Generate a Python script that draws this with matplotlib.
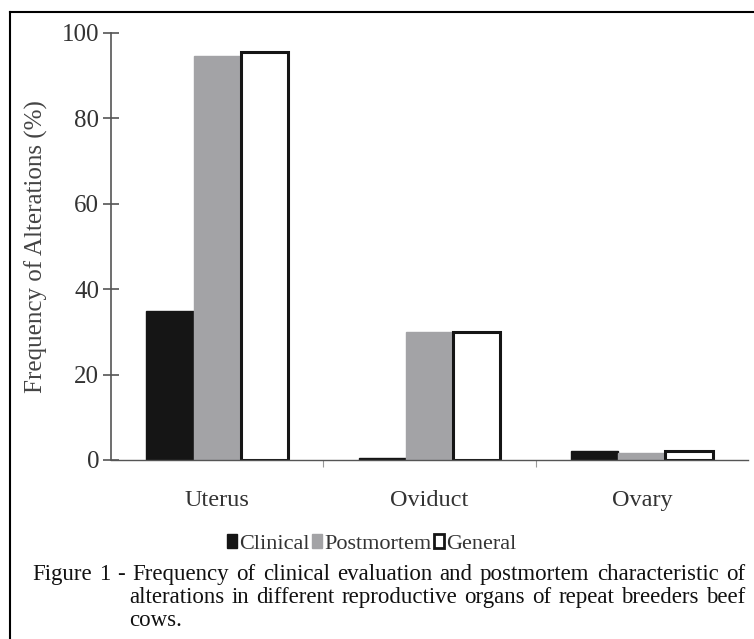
import numpy as np
import matplotlib.pyplot as plt
from matplotlib.lines import Line2D
from matplotlib.patches import Patch

organs = ['Uterus', 'Oviduct', 'Ovary']
clinical = [35, 0.4, 2]
postmortem = [94.5, 30, 1.6]
general = [95.5, 30, 2]

caption_lines = ['Figure 1 - Frequency of clinical evaluation and postmortem characteristic of',
                 'alterations in different reproductive organs of repeat breeders beef',
                 'cows.']

plt.rcParams['font.family'] = ['Liberation Serif', 'DejaVu Serif']

W, H = 754, 639
fig = plt.figure(figsize=(W / 100, H / 100), dpi=100)
ax = fig.add_axes([111 / W, 1 - 460 / H, (748 - 111) / W, (460 - 33) / H])

x = np.arange(len(organs))
w = 0.222
ax.bar(x - w, clinical, w, color='#151515', edgecolor='#151515', linewidth=1)
ax.bar(x, postmortem, w, color='#a3a3a6', edgecolor='#a3a3a6', linewidth=1)
ax.bar(x + w, general, w, color='white', edgecolor='#151515', linewidth=2.2)

ax.set_xlim(-0.5, 2.5)
ax.set_ylim(0, 100)
ax.set_yticks([0, 20, 40, 60, 80, 100])
ax.tick_params(axis='y', direction='inout', length=11, width=1.2, labelsize=18, pad=3,
               colors='#555555', labelcolor='#333333')
ax.set_xticks([0.5, 1.5])
ax.set_xticklabels([])
ax.tick_params(axis='x', direction='out', length=5, width=0.8, colors='#999999')
for i, name in enumerate(organs):
    ax.text(i, -9.4, name, ha='center', va='center', fontsize=17.5, color='#333333')
for s in ['top', 'right']:
    ax.spines[s].set_visible(False)
ax.spines['left'].set_color('#555555')
ax.spines['left'].set_linewidth(1.2)
ax.spines['bottom'].set_color('#555555')
ax.spines['bottom'].set_linewidth(1.0)
ax.set_ylabel('Frequency of Alterations (%)', fontsize=18, color='#444444', labelpad=10)

handles = [Patch(facecolor='#151515', edgecolor='#151515'),
           Patch(facecolor='#a3a3a6', edgecolor='#a3a3a6'),
           Patch(facecolor='white', edgecolor='#151515', linewidth=2)]
fig.legend(handles, ['Clinical', 'Postmortem', 'General'], loc='center', bbox_to_anchor=(0.493, 1 - 544 / H),
           ncol=3, frameon=False, fontsize=16, handlelength=0.45, handleheight=0.6,
           handletextpad=0.1, columnspacing=0.1, labelcolor='#333333')

# justified caption, word by word
fig.canvas.draw()
renderer = fig.canvas.get_renderer()
starts = [32, 129, 129]
baselines = [580, 603, 626]
right = 745
for k, line in enumerate(caption_lines):
    words = line.split(' ')
    texts = [fig.text(0, 1 - baselines[k] / H, wd, fontsize=16.5, color='#111111',
                      ha='left', va='baseline') for wd in words]
    widths = [t.get_window_extent(renderer).width for t in texts]
    if k < len(caption_lines) - 1:
        gap = (right - starts[k] - sum(widths)) / (len(words) - 1)
    else:
        gap = 5
    xpos = starts[k]
    for t, wd in zip(texts, widths):
        t.set_x(xpos / W)
        xpos += wd + gap

# outer frame (top and left edges visible)
fig.add_artist(Line2D([10 / W, 1], [1 - 12 / H] * 2, color='black', lw=1.5, transform=fig.transFigure))
fig.add_artist(Line2D([10 / W] * 2, [0, 1 - 12 / H], color='black', lw=1.5, transform=fig.transFigure))

fig.savefig('out.png', dpi=100)
